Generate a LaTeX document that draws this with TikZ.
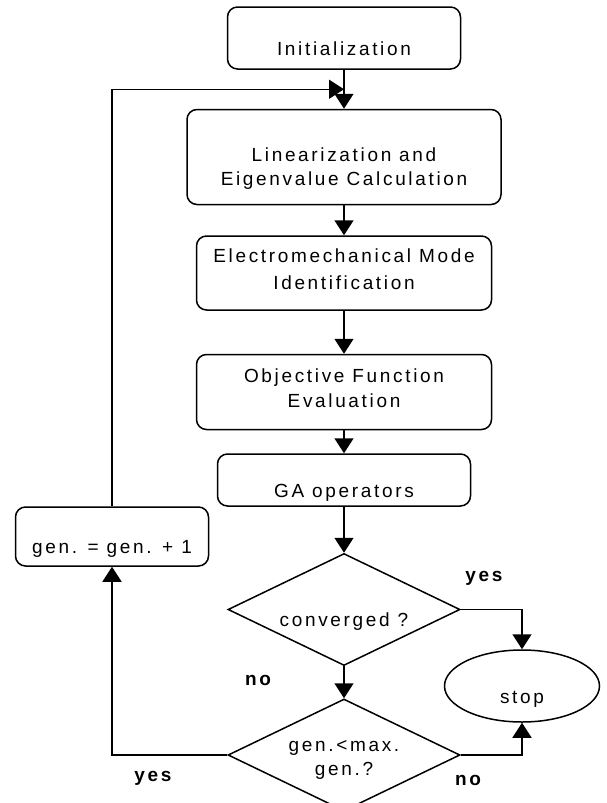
\documentclass[tikz,border=0pt]{standalone}
\usepackage{fontspec}
\setmainfont{Liberation Sans}[LetterSpace=14]
\usetikzlibrary{arrows.meta, positioning, shapes.geometric, calc}

\begin{document}
\begin{tikzpicture}[
  x=1pt, y=-1pt,
  font=\fontsize{19}{23.5}\selectfont,
  every node/.style={align=center, inner sep=2pt},
  box/.style={draw, line width=1.5pt, rounded corners=10pt},
  lowtext/.style={text height=34pt, text depth=0pt},
  decision/.style={
    draw,
    diamond,
    line width=1.5pt,
    aspect=2.07,
    inner sep=0pt,
    minimum width=232pt,
    minimum height=112pt
  },
  terminal/.style={draw, ellipse, line width=1.5pt},
  arrow/.style={-{Triangle[length=15pt, width=19pt]}, line width=1.5pt},
  lbl/.style={font=\fontsize{19}{23.5}\selectfont\bfseries}
]
\useasboundingbox (0,0) rectangle (606,803);

% Start
\node[box, lowtext, minimum width=233pt, minimum height=62pt] (init) at (344,38) {Initialization};

% Eigen analysis
\node[box, text height=56pt, text depth=-18pt, minimum width=314pt, minimum height=95pt,
  below=39pt of init] (lin) {
Linearization and\\
Eigenvalue Calculation
};

% Mode identification
\node[box, text depth=8pt, minimum width=295pt, minimum height=74pt, below=30pt of lin] (elec) {
Electromechanical Mode\\[4pt]
Identification
};

% Fitness
\node[box, text depth=8pt, minimum width=295pt, minimum height=75pt, below=43pt of elec] (obj) {
Objective Function\\[1pt]
Evaluation
};

% Genetic step
\node[box, lowtext, minimum width=253pt, minimum height=52pt, below=23pt of obj] (ga) {GA operators};

% Checks
\node[decision, lowtext, below=46pt of ga] (conv) {converged ?};
\node[decision, text height=40pt, text depth=-20pt, below=32pt of conv] (maxgen) {
gen.<max.\\
gen.?
};

% End and counter
\node[terminal, lowtext, minimum width=155pt, minimum height=72pt] (stop) at (522,686) {stop};
\node[box, lowtext, minimum width=193pt, minimum height=59pt] (gen) at (112,536.5) {gen. = gen. + 1};

% Branch labels
\node[lbl] (yesconv) at (484,578) {yes};
\node[lbl] (noconv) at (258,680) {no};
\node[lbl] (nomax) at (468,780) {no};
\node[lbl] (yesmax) at (153,778) {yes};

% Arrows
\coordinate (merge) at ($(init.south)!0.5!(lin.north)$);
\draw[arrow] (init) -- (lin);
\draw[arrow] (lin) -- (elec);
\draw[arrow] (elec) -- (obj);
\draw[arrow] (obj) -- (ga);
\draw[arrow] (ga) -- (conv);
\draw[arrow] (conv) -- (maxgen);
\draw[arrow] (conv.east) -| (stop.north);
\draw[arrow] (maxgen.east) -| (stop.south);
\draw[arrow] (maxgen.west) -| (gen.south);
\draw[arrow] (gen.north) |- (merge);

\end{tikzpicture}
\end{document}
